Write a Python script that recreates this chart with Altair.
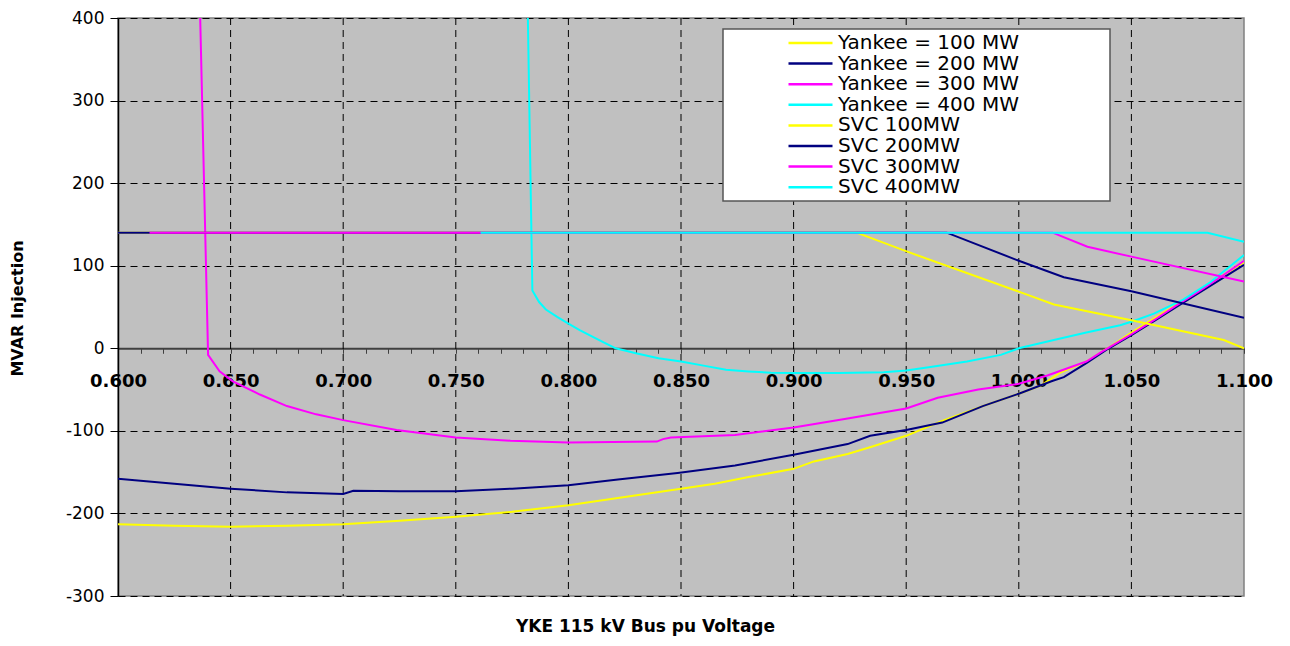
import altair as alt
import pandas as pd

# ---------------- data ----------------
series_names = [
    "Yankee = 100 MW", "Yankee = 200 MW", "Yankee = 300 MW", "Yankee = 400 MW",
    "SVC 100MW", "SVC 200MW", "SVC 300MW", "SVC 400MW",
]
series_colors = ["#FFFF00", "#000080", "#FF00FF", "#00FFFF",
                 "#FFFF00", "#000080", "#FF00FF", "#00FFFF"]

y100_v = [0.600, 0.625, 0.650, 0.675, 0.700, 0.725, 0.750, 0.775, 0.800, 0.825, 0.850, 0.865,
          0.880, 0.900, 0.909, 0.924, 0.935, 0.950, 0.966, 0.984, 1.000, 1.010, 1.0187, 1.030,
          1.040, 1.050, 1.060, 1.070, 1.080, 1.090, 1.100]
y100_q = [-213, -215, -216, -215, -213, -209, -204, -198, -190, -180, -170, -164,
          -156, -146, -137, -128, -119, -106, -88, -70, -55, -45, -29, -16,
          1, 19, 36, 53, 70, 87, 104]

y200_v = [0.600, 0.625, 0.650, 0.675, 0.700, 0.7045, 0.725, 0.750, 0.775, 0.800, 0.822, 0.8485,
          0.874, 0.900, 0.924, 0.934, 0.950, 0.966, 0.984, 1.000, 1.0145, 1.020, 1.030, 1.040,
          1.050, 1.060, 1.070, 1.080, 1.090, 1.100]
y200_q = [-158, -164, -170, -174.5, -176.5, -172.5, -173, -173, -170, -166, -159, -151,
          -142, -129, -116, -106, -99, -90, -70, -55, -40, -35, -18, 0,
          16, 33, 50, 67, 84, 101]

y300_v = [0.6365, 0.6400, 0.6451, 0.651, 0.663, 0.675, 0.688, 0.700, 0.7237, 0.750, 0.7743, 0.800,
          0.8393, 0.8420, 0.8455, 0.874, 0.900, 0.924, 0.950, 0.964, 0.982, 1.000, 1.0127, 1.030,
          1.0364, 1.050, 1.060, 1.070, 1.080, 1.090, 1.100]
y300_q = [400, -8, -28, -40, -56, -70, -80, -87, -99, -108, -112, -114,
          -113, -110, -108, -105, -96, -85, -73, -60, -50, -43, -33, -16,
          -5, 17, 34, 52, 69, 87, 106]

y400_v = [0.7820, 0.7840, 0.7870, 0.7900, 0.7950, 0.8000, 0.8050, 0.8100, 0.8150, 0.8210, 0.8300,
          0.8400, 0.8500, 0.8600, 0.8700, 0.8800, 0.8900, 0.9000, 0.9200, 0.9400, 0.9500, 0.9600,
          0.9770, 0.9920, 1.0000, 1.0170, 1.0300, 1.0450, 1.0510, 1.0600, 1.0730, 1.0850, 1.1000]
y400_q = [400, 70, 56, 47, 38, 30, 22, 15, 8, 0, -6,
          -12, -16, -21, -26, -28, -29.5, -30, -30, -29, -27, -23,
          -16, -8, 0, 11, 19, 28, 33, 42, 59, 80, 113]

svc100_v = [0.600, 0.928, 0.9505, 1.000, 1.0156, 1.050, 1.091, 1.100]
svc100_q = [140, 140, 117, 68.6, 53, 34, 10, 0]

svc200_v = [0.600, 0.968, 1.000, 1.020, 1.050, 1.100]
svc200_q = [140, 140, 106, 86, 69, 37]

svc300_v = [0.614, 1.015, 1.0305, 1.050, 1.100]
svc300_q = [140, 140, 123, 111, 81]

svc400_v = [0.761, 1.0838, 1.100]
svc400_q = [140, 140, 129]

x_grid_values = [0.65, 0.70, 0.75, 0.80, 0.85, 0.90, 0.95, 1.00, 1.05]
x_tick_values = [round(0.60 + 0.01 * i, 2) for i in range(51)]
y_tick_values = [-300, -200, -100, 0, 100, 200, 300, 400]

series_data = [
    (series_names[0], y100_v, y100_q),
    (series_names[1], y200_v, y200_q),
    (series_names[2], y300_v, y300_q),
    (series_names[3], y400_v, y400_q),
    (series_names[4], svc100_v, svc100_q),
    (series_names[5], svc200_v, svc200_q),
    (series_names[6], svc300_v, svc300_q),
    (series_names[7], svc400_v, svc400_q),
]
rows = []
for order, (name, vs, qs) in enumerate(series_data):
    for v, q in zip(vs, qs):
        rows.append({"series": name, "order": order, "v": v, "q": q})
df = pd.DataFrame(rows)
grid_df = pd.DataFrame({"v": x_grid_values})

FONT = "DejaVu Sans"
PLOT_W = 1126
PLOT_H = 578

# legend box frame (pixels inside the plot area)
LEG_X, LEG_Y, LEG_W, LEG_H = 605, 11, 387, 172

x_scale = alt.Scale(domain=[0.6, 1.1], nice=False, zero=False)
y_scale = alt.Scale(domain=[-300, 400], nice=False, zero=False)

x_axis = alt.Axis(
    orient="bottom", offset=-PLOT_H * 300 / 700, values=x_tick_values, grid=False,
    labelExpr="round(datum.value*100) % 5 === 0 ? format(datum.value, '.3f') : ''",
    labelFont=FONT, labelFontSize=18, labelFontWeight="bold", labelColor="black",
    labelPadding=19, labelOverlap=False, labelFlush=False, labelBound=False,
    tickSize=5, tickColor="#404040", tickWidth=1,
    domainColor="#404040", domainWidth=2,
    title="YKE 115 kV Bus pu Voltage", titleFont=FONT, titleFontSize=17,
    titleFontWeight="bold", titleColor="black", titleX=527, titleY=283,
    titleAlign="center", titleBaseline="alphabetic",
)
y_axis = alt.Axis(
    values=y_tick_values, grid=True, gridColor="black", gridDash=[7, 5], gridWidth=1,
    labelExpr="'' + datum.value",
    labelFont=FONT, labelFontSize=17, labelColor="black", labelPadding=6,
    tickSize=8, tickColor="black", domainColor="black", domainWidth=1.5,
    title="MVAR Injection", titleFont=FONT, titleFontSize=16, titleFontWeight="bold",
    titleColor="black", titleAngle=270, titleX=-96, titleY=290,
    titleAlign="center", titleBaseline="alphabetic",
)

grid_rules = alt.Chart(grid_df).mark_rule(
    color="black", strokeDash=[7, 5], strokeWidth=1
).encode(
    x=alt.X("v:Q", scale=x_scale, axis=x_axis),
)

lines = alt.Chart(df).mark_line(strokeWidth=2, clip=True).encode(
    x=alt.X("v:Q", scale=x_scale, axis=x_axis),
    y=alt.Y("q:Q", scale=y_scale, axis=y_axis),
    color=alt.Color(
        "series:N",
        scale=alt.Scale(domain=series_names, range=series_colors),
        sort=series_names,
        legend=alt.Legend(
            orient="none", legendX=LEG_X, legendY=LEG_Y, title=None,
            labelFont=FONT, labelFontSize=20, labelColor="black", labelLimit=600,
            symbolType="stroke", symbolSize=1936, symbolStrokeWidth=2.5,
            symbolOffset=60, labelOffset=4, padding=4, rowPadding=0.6,
            clipHeight=20,
        ),
    ),
    detail="order:O",
)

legend_frame = alt.Chart(pd.DataFrame({"box": ["legend"]})).mark_rect(
    fill="white", stroke="#555555", strokeWidth=1.5
).encode(
    x=alt.value(LEG_X), x2=alt.value(LEG_X + LEG_W),
    y=alt.value(LEG_Y), y2=alt.value(LEG_Y + LEG_H),
)

chart = alt.layer(grid_rules, lines, legend_frame).properties(
    width=PLOT_W, height=PLOT_H,
    autosize=alt.AutoSizeParams(type="none"),
    padding={"left": 110, "top": 10, "right": 37, "bottom": 42},
    view=alt.ViewBackground(fill="#C0C0C0", stroke="#808080", strokeWidth=1.5),
).configure(
    font=FONT,
).configure_view(
    fill="#C0C0C0", stroke="#808080", strokeWidth=1.5,
)

chart.save("out.html", embed_options={"renderer": "svg", "actions": False})
